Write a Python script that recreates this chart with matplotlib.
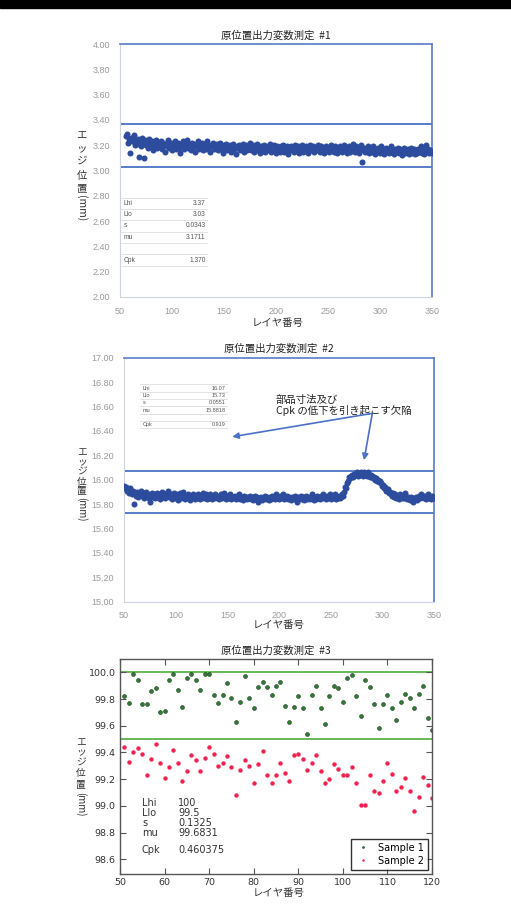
import matplotlib.pyplot as plt
from matplotlib.patches import Rectangle
from matplotlib.lines import Line2D

plt.rcParams['font.family'] = ['Noto Sans CJK JP', 'DejaVu Sans']

# edge position per layer, run #1 (layers 56..350)
edge1 = [
    3.27, 3.29, 3.22, 3.25, 3.14, 3.26, 3.23, 3.28, 3.20, 3.24,
    3.21, 3.25, 3.11, 3.23, 3.19, 3.26, 3.21, 3.10, 3.24, 3.20,
    3.22, 3.18, 3.25, 3.21, 3.19, 3.23, 3.16, 3.22, 3.20, 3.24,
    3.18, 3.21, 3.19, 3.23, 3.17, 3.22, 3.20, 3.15, 3.21, 3.19,
    3.24, 3.18, 3.20, 3.22, 3.16, 3.21, 3.19, 3.23, 3.17, 3.20,
    3.22, 3.18, 3.14, 3.21, 3.19, 3.23, 3.17, 3.20, 3.24, 3.18,
    3.19, 3.21, 3.16, 3.22, 3.18, 3.20, 3.15, 3.21, 3.19, 3.23,
    3.17, 3.20, 3.18, 3.22, 3.16, 3.19, 3.21, 3.17, 3.23, 3.18,
    3.20, 3.15, 3.19, 3.22, 3.17, 3.20, 3.18, 3.21, 3.16, 3.19,
    3.22, 3.17, 3.19, 3.14, 3.20, 3.18, 3.21, 3.16, 3.19, 3.17,
    3.20, 3.15, 3.18, 3.21, 3.17, 3.19, 3.13, 3.18, 3.20, 3.16,
    3.19, 3.17, 3.21, 3.15, 3.18, 3.20, 3.16, 3.19, 3.17, 3.22,
    3.16, 3.18, 3.20, 3.15, 3.19, 3.17, 3.21, 3.16, 3.18, 3.14,
    3.19, 3.17, 3.20, 3.15, 3.18, 3.16, 3.19, 3.17, 3.21, 3.15,
    3.18, 3.16, 3.20, 3.17, 3.14, 3.19, 3.16, 3.18, 3.15, 3.19,
    3.17, 3.20, 3.15, 3.18, 3.16, 3.19, 3.13, 3.17, 3.19, 3.16,
    3.18, 3.15, 3.20, 3.17, 3.16, 3.19, 3.14, 3.18, 3.17, 3.20,
    3.15, 3.18, 3.16, 3.19, 3.17, 3.14, 3.18, 3.20, 3.16, 3.17,
    3.19, 3.15, 3.18, 3.16, 3.20, 3.17, 3.15, 3.19, 3.16, 3.18,
    3.14, 3.17, 3.19, 3.16, 3.18, 3.15, 3.17, 3.20, 3.16, 3.18,
    3.15, 3.19, 3.17, 3.14, 3.18, 3.16, 3.19, 3.15, 3.17, 3.20,
    3.16, 3.18, 3.14, 3.17, 3.19, 3.15, 3.18, 3.16, 3.21, 3.17,
    3.15, 3.19, 3.16, 3.18, 3.14, 3.17, 3.20, 3.07, 3.16, 3.18,
    3.15, 3.17, 3.19, 3.14, 3.16, 3.18, 3.15, 3.19, 3.16, 3.13,
    3.17, 3.15, 3.18, 3.16, 3.14, 3.19, 3.15, 3.17, 3.13, 3.16,
    3.18, 3.15, 3.17, 3.14, 3.16, 3.19, 3.15, 3.13, 3.17, 3.15,
    3.16, 3.18, 3.14, 3.17, 3.15, 3.12, 3.16, 3.18, 3.14, 3.16,
    3.15, 3.17, 3.13, 3.16, 3.18, 3.14, 3.15, 3.17, 3.13, 3.16,
    3.14, 3.17, 3.15, 3.19, 3.14, 3.16, 3.13, 3.17, 3.20, 3.15,
    3.17, 3.14, 3.16, 3.15, 3.14,
]
layer1 = list(range(56, 56 + len(edge1)))

# run #2 (layers 50..350), bump around layer 265-305
edge2 = [
    15.95, 15.93, 15.94, 15.91, 15.92, 15.89, 15.93, 15.90, 15.88, 15.91,
    15.80, 15.89, 15.87, 15.90, 15.86, 15.89, 15.91, 15.87, 15.89, 15.85,
    15.88, 15.90, 15.86, 15.88, 15.85, 15.82, 15.87, 15.89, 15.86, 15.88,
    15.85, 15.87, 15.89, 15.86, 15.88, 15.84, 15.87, 15.90, 15.86, 15.88,
    15.85, 15.87, 15.89, 15.91, 15.86, 15.88, 15.84, 15.87, 15.89, 15.85,
    15.88, 15.86, 15.83, 15.87, 15.89, 15.85, 15.88, 15.90, 15.86, 15.84,
    15.87, 15.85, 15.88, 15.86, 15.83, 15.87, 15.85, 15.88, 15.86, 15.84,
    15.87, 15.85, 15.88, 15.86, 15.84, 15.87, 15.89, 15.85, 15.86, 15.88,
    15.84, 15.87, 15.85, 15.88, 15.86, 15.84, 15.87, 15.85, 15.88, 15.86,
    15.85, 15.87, 15.84, 15.86, 15.88, 15.85, 15.87, 15.89, 15.86, 15.84,
    15.87, 15.85, 15.86, 15.88, 15.84, 15.86, 15.85, 15.87, 15.84, 15.86,
    15.85, 15.88, 15.84, 15.86, 15.85, 15.83, 15.87, 15.85, 15.86, 15.84,
    15.86, 15.85, 15.87, 15.84, 15.86, 15.83, 15.85, 15.87, 15.84, 15.86,
    15.82, 15.85, 15.84, 15.86, 15.83, 15.85, 15.87, 15.84, 15.86, 15.85,
    15.83, 15.86, 15.84, 15.87, 15.85, 15.86, 15.84, 15.88, 15.85, 15.86,
    15.84, 15.87, 15.85, 15.86, 15.88, 15.84, 15.86, 15.85, 15.87, 15.84,
    15.86, 15.85, 15.83, 15.86, 15.84, 15.87, 15.85, 15.82, 15.86, 15.84,
    15.85, 15.87, 15.84, 15.86, 15.83, 15.85, 15.87, 15.84, 15.86, 15.85,
    15.84, 15.86, 15.88, 15.85, 15.83, 15.86, 15.84, 15.87, 15.85, 15.86,
    15.84, 15.87, 15.85, 15.88, 15.86, 15.84, 15.87, 15.85, 15.86, 15.88,
    15.84, 15.86, 15.87, 15.85, 15.88, 15.84, 15.86, 15.85, 15.87, 15.85,
    15.86, 15.88, 15.87, 15.90, 15.94, 15.93, 15.97, 15.99, 16.02, 16.01,
    16.03, 16.04, 16.02, 16.05, 16.04, 16.06, 16.03, 16.05, 16.04, 16.06,
    16.05, 16.03, 16.06, 16.04, 16.05, 16.03, 16.06, 16.04, 16.02, 16.04,
    16.03, 16.01, 16.02, 16.00, 16.01, 15.99, 16.00, 15.98, 15.99, 15.97,
    15.95, 15.96, 15.93, 15.94, 15.91, 15.92, 15.89, 15.90, 15.88, 15.87,
    15.89, 15.86, 15.88, 15.85, 15.87, 15.86, 15.84, 15.88, 15.86, 15.85,
    15.87, 15.85, 15.89, 15.86, 15.84, 15.86, 15.85, 15.83, 15.86, 15.84,
    15.82, 15.85, 15.84, 15.86, 15.83, 15.87, 15.85, 15.88, 15.86, 15.87,
    15.85, 15.87, 15.84, 15.86, 15.88, 15.85, 15.86, 15.84, 15.87, 15.85,
    15.85,
]
layer2 = list(range(50, 50 + len(edge2)))

# run #3, two samples (layers 51..120)
layer3 = list(range(51, 121))
sample1 = [
    99.82, 99.77, 99.99, 99.94, 99.76, 99.76, 99.86, 99.88, 99.70, 99.71,
    99.94, 99.99, 99.87, 99.74, 99.96, 99.99, 99.94, 99.87, 99.99, 99.99,
    99.83, 99.77, 99.83, 99.92, 99.81, 99.63, 99.78, 99.97, 99.81, 99.73,
    99.89, 99.93, 99.89, 99.83, 99.90, 99.93, 99.75, 99.63, 99.74, 99.82,
    99.73, 99.54, 99.83, 99.90, 99.73, 99.61, 99.82, 99.90, 99.88, 99.78,
    99.96, 99.98, 99.82, 99.67, 99.94, 99.89, 99.76, 99.58, 99.76, 99.83,
    99.73, 99.64, 99.78, 99.84, 99.81, 99.73, 99.84, 99.90, 99.66, 99.57,
]
sample2 = [
    99.44, 99.33, 99.40, 99.43, 99.39, 99.23, 99.35, 99.46, 99.32, 99.21,
    99.29, 99.42, 99.32, 99.19, 99.26, 99.38, 99.34, 99.26, 99.36, 99.44,
    99.39, 99.30, 99.32, 99.37, 99.29, 99.08, 99.27, 99.34, 99.30, 99.17,
    99.31, 99.41, 99.23, 99.17, 99.23, 99.32, 99.25, 99.19, 99.38, 99.39,
    99.35, 99.27, 99.32, 99.38, 99.26, 99.17, 99.20, 99.31, 99.28, 99.23,
    99.23, 99.29, 99.17, 99.01, 99.01, 99.23, 99.11, 99.10, 99.19, 99.32,
    99.24, 99.11, 99.14, 99.21, 99.11, 98.96, 99.07, 99.22, 99.16, 99.06,
]

limits1 = [3.37, 3.03]
limits2 = [16.07, 15.73]
limits3 = [100.0, 99.5]

stat_names = ['Lhi', 'Llo', 's', 'mu', 'Cpk']
stats1 = ['3.37', '3.03', '0.0343', '3.1711', '1.370']
stats2 = ['16.07', '15.73', '0.0551', '15.8818', '0.919']
stats3 = ['100', '99.5', '0.1325', '99.6831', '0.460375']

titles = ['原位置出力変数測定  #1', '原位置出力変数測定  #2', '原位置出力変数測定  #3']
xlabel = 'レイヤ番号'
note = '部品寸法及び\nCpk の低下を引き起こす欠陥'

W, H = 511, 917
BLUE = '#2d4c9e'
LINE = '#4a72c4'

fig = plt.figure(figsize=(W / 100, H / 100), dpi=100)
fig.patches.append(Rectangle((0, 1 - 8 / H), 1, 8 / H, transform=fig.transFigure,
                             color='black', zorder=0))


def box(l, t, r, b):
    return [l / W, 1 - b / H, (r - l) / W, (b - t) / H]


def ftext(x, y, s, **kw):
    return fig.text(x / W, 1 - y / H, s, **kw)


def fline(x0, x1, y, color='#dedede', lw=0.6):
    fig.lines.append(Line2D([x0 / W, x1 / W], [1 - y / H, 1 - y / H],
                            transform=fig.transFigure, color=color, lw=lw))


def vlabel(x, ys, mm_top, fs):
    # vertical japanese label, upright kana/kanji and rotated (mm)
    for ch, y in zip('エッジ位置', ys):
        ftext(x, y, ch, ha='center', va='center', fontsize=fs, color='#333333')
    ftext(x, mm_top, '(mm)', rotation=270, ha='center', va='top', fontsize=fs, color='#333333')


def excel_panel(ax, layers, vals, lims, ylim, yticks, title):
    ax.scatter(layers, vals, s=19, color=BLUE, linewidths=0, zorder=3)
    for v in lims:
        ax.axhline(v, color=LINE, lw=1.3, zorder=2)
    ax.set_xlim(50, 350)
    ax.set_ylim(ylim)
    ax.set_xticks(range(50, 351, 50))
    ax.set_yticks(yticks)
    ax.set_yticklabels([f'{t:.2f}' for t in yticks])
    ax.tick_params(length=0, labelsize=6.5, labelcolor='#9a9a9a', pad=7)
    for lbl in ax.get_xticklabels() + ax.get_yticklabels():
        lbl.set_fontfamily('Liberation Sans')
    for s in ['top', 'right']:
        ax.spines[s].set_color('#5a7cc4')
        ax.spines[s].set_linewidth(1.2)
    for s in ['left', 'bottom']:
        ax.spines[s].set_color('#cdd3e0')
        ax.spines[s].set_linewidth(0.8)
    ax.set_title(title, fontsize=7.5, pad=4, color='#222222')


def stat_table(x0, x1, xl, xr, rows, lines, vals, fs):
    for name, v, y in zip(stat_names, vals, rows):
        ftext(xl, y, name, ha='left', va='center', fontsize=fs, color='#555555',
              family='Liberation Sans')
        ftext(xr, y, v, ha='right', va='center', fontsize=fs, color='#555555',
              family='Liberation Sans')
    for y in lines:
        fline(x0, x1, y)


# panel 1
ax1 = fig.add_axes(box(120, 44, 432, 297))
excel_panel(ax1, layer1, edge1, limits1, (2, 4), [2 + 0.2 * i for i in range(11)], titles[0])
ftext(278, 322.7, xlabel, ha='center', va='center', fontsize=7.5, color='#333333')
vlabel(81.7, [135, 148, 161, 176, 189], 195, 7.5)
stat_table(121, 207, 123.5, 205.5, [203.3, 214.3, 225.7, 237.3, 260],
           [197.7, 209, 220, 231.5, 243, 254.3, 265.7], stats1, 4.8)

# panel 2
ax2 = fig.add_axes(box(124, 357.7, 434, 601.7))
excel_panel(ax2, layer2, edge2, limits2, (15, 17), [15 + 0.2 * i for i in range(11)], titles[1])
ftext(279, 625, xlabel, ha='center', va='center', fontsize=7.5, color='#333333')
vlabel(81.7, [452, 462, 472, 482, 491], 497, 7)
stat_table(140, 227, 142.5, 225.5, [388.3, 395.3, 402.7, 410, 424.3],
           [384.5, 391.7, 399, 406.3, 413.6, 420.8, 428], stats2, 4.0)
ax2.text(197, 16.61, note, ha='left', va='center', fontsize=7.5, color='#222222',
         linespacing=1.05)
for tgt in [(154.8, 16.352), (282.3, 16.16)]:
    ax2.annotate('', xy=tgt, xytext=(290.3, 16.544),
                 arrowprops=dict(arrowstyle='-|>', color=LINE, lw=1.2, mutation_scale=9,
                                 shrinkA=0, shrinkB=0))

# panel 3, classic matplotlib look
ax3 = fig.add_axes(box(120, 659, 432, 874))
ax3.plot(layer3, sample1, 'o', ms=2.8, mfc='#2f7a34', mec='#1c3a1c', mew=0.4, label='Sample 1')
ax3.plot(layer3, sample2, 'o', ms=2.8, mfc='#f2204e', mec='#f2204e', mew=0.3, label='Sample 2')
for v in limits3:
    ax3.axhline(v, color='#5cb34a', lw=1.3, zorder=1)
ax3.set_xlim(50, 120)
ax3.set_ylim(98.49, 100.1)
ax3.set_xticks(range(50, 121, 10))
yt3 = [98.6 + 0.2 * i for i in range(8)]
ax3.set_yticks(yt3)
ax3.set_yticklabels([f'{t:.1f}' for t in yt3])
ax3.tick_params(direction='in', top=True, right=True, length=4, width=0.8, color='#555555',
                labelsize=6.8, labelcolor='#333333', pad=3)
for lbl in ax3.get_xticklabels() + ax3.get_yticklabels():
    lbl.set_fontfamily('DejaVu Sans')
for s in ax3.spines.values():
    s.set_color('#555555')
    s.set_linewidth(1.0)
ax3.set_title(titles[2], fontsize=7.5, pad=4, color='#222222')
ftext(279, 893.3, xlabel, ha='center', va='center', fontsize=7.5, color='#333333')
vlabel(80.7, [742.3, 752.3, 762.3, 773.3, 785], 791.5, 7)
for name, v, y in zip(stat_names, stats3, [803.3, 813.3, 823.3, 832.7, 850]):
    ftext(142, y, name, ha='left', va='center', fontsize=7, color='#333333', family='DejaVu Sans')
    ftext(178, y, v, ha='left', va='center', fontsize=7, color='#333333', family='DejaVu Sans')
leg = ax3.legend(loc='lower right', fancybox=False, edgecolor='black',
                 markerscale=0.5, borderaxespad=0.45, handlelength=1.5, labelspacing=0.3,
                 prop={'family': 'DejaVu Sans', 'size': 7})
leg.get_frame().set_linewidth(1.0)

fig.savefig('out.png', dpi=100)
